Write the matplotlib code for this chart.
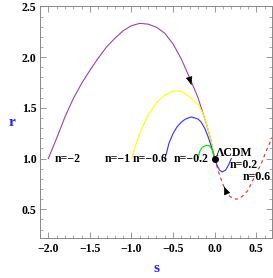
import numpy as np
import matplotlib.pyplot as plt
from matplotlib.ticker import MultipleLocator

plt.rcParams['font.family'] = ['Liberation Serif', 'DejaVu Serif']
plt.rcParams['font.weight'] = 'bold'

# curves (s, r)
s_m2 = [-2.0, -1.9, -1.8, -1.7, -1.6, -1.5, -1.4, -1.3, -1.2, -1.1, -1.0, -0.9, -0.8, -0.7,
        -0.6, -0.5, -0.4, -0.3, -0.2, -0.1, -0.05, 0.0]
r_m2 = [1.0, 1.2, 1.41, 1.59, 1.74, 1.87, 1.99, 2.10, 2.185, 2.26, 2.31, 2.333, 2.325, 2.295,
        2.235, 2.13, 1.98, 1.795, 1.60, 1.343, 1.20, 1.0]

s_m1 = [-1.0, -0.95, -0.9, -0.8, -0.7, -0.6, -0.5, -0.45, -0.4, -0.3, -0.2, -0.15, -0.1, -0.05, 0.0]
r_m1 = [1.0, 1.13, 1.25, 1.43, 1.55, 1.625, 1.665, 1.668, 1.66, 1.61, 1.53, 1.46, 1.35, 1.2, 1.0]

s_m06 = [-0.6, -0.58, -0.55, -0.5, -0.45, -0.4, -0.35, -0.28, -0.2, -0.163, -0.12, -0.078, -0.04, 0.0]
r_m06 = [1.0, 1.05, 1.15, 1.247, 1.315, 1.36, 1.39, 1.41, 1.39, 1.36, 1.3, 1.213, 1.12, 1.0]

s_m02 = [-0.2, -0.18, -0.15, -0.1, -0.06, -0.03, 0.0]
r_m02 = [1.0, 1.07, 1.11, 1.13, 1.125, 1.09, 1.0]

s_p02 = [0.0, 0.03, 0.06, 0.09, 0.13, 0.17, 0.2]
r_p02 = [1.0, 0.93, 0.885, 0.868, 0.885, 0.94, 1.0]

s_p06 = [0.0, 0.024, 0.05, 0.08, 0.11, 0.14, 0.18, 0.22, 0.26, 0.30, 0.35, 0.40, 0.48, 0.56, 0.64, 0.70]
r_p06 = [1.0, 0.934, 0.86, 0.79, 0.725, 0.67, 0.63, 0.607, 0.600, 0.607, 0.64, 0.687, 0.82, 0.95, 1.115, 1.22]

fig = plt.figure(figsize=(2.73, 2.78), dpi=100)
ax = fig.add_axes([0.1465, 0.145, 0.85, 0.832])

ax.plot(s_m2, r_m2, color='#a040a8', lw=0.8)
ax.plot(s_m1, r_m1, color='#ffff00', lw=0.8)
ax.plot(s_m06, r_m06, color='#3030ff', lw=0.8)
ax.plot(s_m02, r_m02, color='#00e000', lw=0.8)
ax.plot(s_p02, r_p02, color='#3030ff', lw=0.8)
ax.plot(s_p06, r_p06, color='#ff2020', lw=0.8, dashes=(3, 3))

ax.plot([0], [1], 'o', color='black', ms=4)

# arrow heads along the flow
head = '-|>,head_length=0.5,head_width=0.2'
ax.annotate('', xy=(-0.27, 1.70), xytext=(-0.29, 1.755),
            arrowprops=dict(arrowstyle=head, color='black', lw=0.5))
ax.annotate('', xy=(0.10, 0.75), xytext=(0.13, 0.69),
            arrowprops=dict(arrowstyle=head, color='black', lw=0.5))

fs = 8.5
ax.text(-1.924, 1.0, 'n=\u22122', fontsize=fs, fontweight='bold', va='center')
ax.text(-1.005, 1.0, 'n=\u22121', fontsize=fs, fontweight='bold', va='center', ha='right')
ax.text(-0.985, 1.0, 'n=\u22120.6', fontsize=fs, fontweight='bold', va='center')
ax.text(-0.075, 1.0, 'n=\u22120.2', fontsize=fs, fontweight='bold', va='center', ha='right')
ax.text(0.016, 1.05, '\u039bCDM', fontsize=fs, fontweight='bold', va='center')
ax.text(0.185, 0.934, 'n=0.2', fontsize=fs, fontweight='bold', va='center')
ax.text(0.336, 0.818, 'n=0.6', fontsize=fs, fontweight='bold', va='center')

ax.set_xlim(-2.1, 0.69)
ax.set_ylim(0.22, 2.5)
ax.xaxis.set_major_locator(MultipleLocator(0.5))
ax.xaxis.set_minor_locator(MultipleLocator(0.1))
ax.yaxis.set_major_locator(MultipleLocator(0.5))
ax.yaxis.set_minor_locator(MultipleLocator(0.1))
ax.tick_params(which='both', direction='in', top=True, right=True, color='#888888',
               labelsize=8.5)
ax.tick_params(axis='y', pad=2.5)
ax.tick_params(axis='x', pad=4)
ax.tick_params(which='major', length=4, width=0.6)
ax.tick_params(which='minor', length=2, width=0.5)
for sp in ax.spines.values():
    sp.set_color('#888888')
    sp.set_linewidth(0.7)
for lab in ax.get_xticklabels() + ax.get_yticklabels():
    lab.set_fontweight('bold')
ax.xaxis.set_major_formatter(plt.FuncFormatter(lambda v, p: f'{v:.1f}'.replace('-', '\u2212')))
ax.yaxis.set_major_formatter(plt.FuncFormatter(lambda v, p: f'{v:.1f}'))

fig.text(156 / 273, 1 - 268 / 278, 's', color='#2020ff', fontsize=11, fontweight='bold',
         ha='center', va='center')
fig.text(12 / 273, 1 - 123 / 278, 'r', color='#2020ff', fontsize=11, fontweight='bold',
         ha='center', va='center')

fig.savefig('out.png', dpi=100)
